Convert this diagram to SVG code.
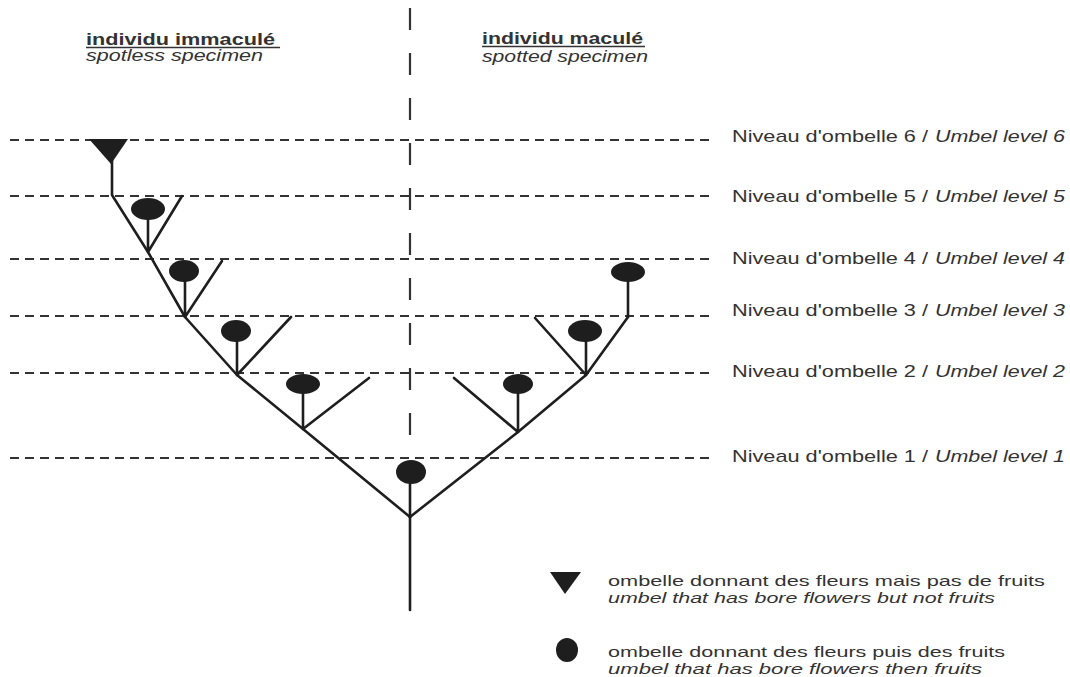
<svg xmlns="http://www.w3.org/2000/svg" width="1070" height="677" viewBox="0 0 1070 677">
<style>
.lvl{stroke:#333;stroke-width:2;stroke-dasharray:9 6;fill:none}
.vdash{stroke:#333;stroke-width:2.2;stroke-dasharray:22 23;fill:none}
.br{stroke:#1e1e1e;stroke-width:2.6;fill:none;stroke-linecap:round;stroke-linejoin:round}
.dot{fill:#1e1e1e}
.t{font-family:"Liberation Sans",Arial,sans-serif;font-size:17px;fill:#333}
.lg{font-size:15px}
.i{font-style:italic}
.b{font-weight:bold;font-size:16px}
.ul{stroke:#333;stroke-width:1.5}
</style>
<rect width="1070" height="677" fill="#fff"/>
<g id="levels">
<line class="lvl" x1="10" y1="140" x2="712" y2="140"/>
<line class="lvl" x1="10" y1="196" x2="712" y2="196"/>
<line class="lvl" x1="10" y1="259" x2="712" y2="259"/>
<line class="lvl" x1="10" y1="316" x2="712" y2="316"/>
<line class="lvl" x1="10" y1="373" x2="712" y2="373"/>
<line class="lvl" x1="10" y1="458" x2="712" y2="458"/>
<line class="vdash" x1="410" y1="8" x2="410" y2="436"/>
</g>
<g id="headers">
<text class="t b" x="86" y="45" textLength="189" lengthAdjust="spacingAndGlyphs">individu immaculé</text>
<line class="ul" x1="86" y1="47.5" x2="280" y2="47.5"/>
<text class="t i" x="86" y="61" textLength="177" lengthAdjust="spacingAndGlyphs">spotless specimen</text>
<text class="t b" x="482" y="44" textLength="161" lengthAdjust="spacingAndGlyphs">individu maculé</text>
<line class="ul" x1="482" y1="46.5" x2="645" y2="46.5"/>
<text class="t i" x="482" y="62" textLength="166" lengthAdjust="spacingAndGlyphs">spotted specimen</text>
</g>
<g id="level-labels">
<text class="t" x="732" y="142" textLength="196" lengthAdjust="spacingAndGlyphs">Niveau d'ombelle 6 /</text><text class="t i" x="935" y="142" textLength="130" lengthAdjust="spacingAndGlyphs">Umbel level 6</text>
<text class="t" x="732" y="202" textLength="196" lengthAdjust="spacingAndGlyphs">Niveau d'ombelle 5 /</text><text class="t i" x="935" y="202" textLength="130" lengthAdjust="spacingAndGlyphs">Umbel level 5</text>
<text class="t" x="732" y="264" textLength="196" lengthAdjust="spacingAndGlyphs">Niveau d'ombelle 4 /</text><text class="t i" x="935" y="264" textLength="130" lengthAdjust="spacingAndGlyphs">Umbel level 4</text>
<text class="t" x="732" y="316" textLength="196" lengthAdjust="spacingAndGlyphs">Niveau d'ombelle 3 /</text><text class="t i" x="935" y="316" textLength="130" lengthAdjust="spacingAndGlyphs">Umbel level 3</text>
<text class="t" x="732" y="377" textLength="196" lengthAdjust="spacingAndGlyphs">Niveau d'ombelle 2 /</text><text class="t i" x="935" y="377" textLength="130" lengthAdjust="spacingAndGlyphs">Umbel level 2</text>
<text class="t" x="732" y="462" textLength="196" lengthAdjust="spacingAndGlyphs">Niveau d'ombelle 1 /</text><text class="t i" x="935" y="462" textLength="130" lengthAdjust="spacingAndGlyphs">Umbel level 1</text>
</g>
<g id="connectors">
<path class="br" d="M410 610 V517"/>
<path class="br" d="M410 517 L303 429 L237 375 L185 317 L148 252 L112 195 V160"/>
<path class="br" d="M410 517 L518 432 L586 375 L628 317"/>
<path class="br" d="M410 517 V484"/>
<path class="br" d="M303 429 V394 M303 429 L369 378"/>
<path class="br" d="M237 375 V341 M237 375 L291 317"/>
<path class="br" d="M185 317 V281 M185 317 L222 261"/>
<path class="br" d="M148 252 V219 M148 252 L182 196"/>
<path class="br" d="M518 432 V394 M518 432 L454 378"/>
<path class="br" d="M586 375 V340 M586 375 L535 318"/>
<path class="br" d="M628 317 V282"/>
</g>
<g id="umbel-6"><polygon class="dot" points="89,139 128,139 111,164"/></g>
<g id="umbel-5"><ellipse class="dot" cx="148" cy="209" rx="17" ry="11"/></g>
<g id="umbel-4"><ellipse class="dot" cx="184" cy="271" rx="15" ry="11"/></g>
<g id="umbel-3"><ellipse class="dot" cx="236" cy="331" rx="15" ry="11"/></g>
<g id="umbel-2"><ellipse class="dot" cx="303" cy="384" rx="17" ry="10"/></g>
<g id="umbel-1"><ellipse class="dot" cx="411" cy="472" rx="15" ry="12"/></g>
<g id="umbel-2r"><ellipse class="dot" cx="518" cy="384" rx="15" ry="10"/></g>
<g id="umbel-3r"><ellipse class="dot" cx="585" cy="331" rx="17" ry="11"/></g>
<g id="umbel-4r"><ellipse class="dot" cx="628" cy="272" rx="17" ry="10"/></g>
<g id="legend">
<polygon class="dot" points="550,572 581,572 565,594"/>
<text class="t lg" x="608" y="586" textLength="437" lengthAdjust="spacingAndGlyphs">ombelle donnant des fleurs mais pas de fruits</text>
<text class="t lg i" x="608" y="603" textLength="387" lengthAdjust="spacingAndGlyphs">umbel that has bore flowers but not fruits</text>
<ellipse class="dot" cx="567" cy="650" rx="11" ry="12"/>
<text class="t lg" x="608" y="657" textLength="397" lengthAdjust="spacingAndGlyphs">ombelle donnant des fleurs puis des fruits</text>
<text class="t lg i" x="608" y="674" textLength="374" lengthAdjust="spacingAndGlyphs">umbel that has bore flowers then fruits</text>
</g>
</svg>
